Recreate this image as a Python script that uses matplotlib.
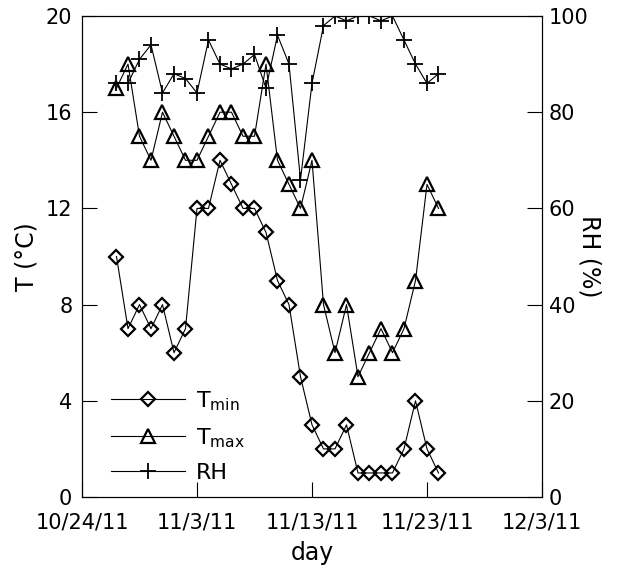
import matplotlib
matplotlib.use('Agg')
import matplotlib.pyplot as plt
import matplotlib.dates as mdates
import datetime as dt

# daily data, 10/27/11 .. 11/24/11
dates = ['2011-10-27', '2011-10-28', '2011-10-29', '2011-10-30', '2011-10-31',
         '2011-11-01', '2011-11-02', '2011-11-03', '2011-11-04', '2011-11-05',
         '2011-11-06', '2011-11-07', '2011-11-08', '2011-11-09', '2011-11-10',
         '2011-11-11', '2011-11-12', '2011-11-13', '2011-11-14', '2011-11-15',
         '2011-11-16', '2011-11-17', '2011-11-18', '2011-11-19', '2011-11-20',
         '2011-11-21', '2011-11-22', '2011-11-23', '2011-11-24']
tmin = [10, 7, 8, 7, 8, 6, 7, 12, 12, 14, 13, 12, 12, 11, 9, 8, 5, 3, 2, 2,
        3, 1, 1, 1, 1, 2, 4, 2, 1]
tmax = [17, 18, 15, 14, 16, 15, 14, 14, 15, 16, 16, 15, 15, 18, 14, 13, 12, 14,
        8, 6, 8, 5, 6, 7, 6, 7, 9, 13, 12]
rh = [86, 86, 91, 94, 84, 88, 87, 84, 95, 90, 89, 90, 92, 85, 96, 90, 66, 86,
      98, 100, 99, 100, 100, 99, 100, 95, 90, 86, 88]

tick_dates = ['2011-10-24', '2011-11-03', '2011-11-13', '2011-11-23', '2011-12-03']
t_ticks = [0, 4, 8, 12, 16, 20]
rh_ticks = [0, 20, 40, 60, 80, 100]

x = [dt.datetime.strptime(d, '%Y-%m-%d') for d in dates]
xt = [dt.datetime.strptime(d, '%Y-%m-%d') for d in tick_dates]

fig = plt.figure(figsize=(6.24, 5.73), dpi=100)
ax = fig.add_axes([82/624, 1-497/573, 460/624, 481/573])
ax2 = ax.twinx()

l1, = ax.plot(x, tmin, '-', color='k', lw=0.8, marker='D', ms=7.2,
              mfc='none', mec='k', mew=1.6)
l2, = ax.plot(x, tmax, '-', color='k', lw=0.8, marker='^', ms=10.5,
              mfc='none', mec='k', mew=1.6)
l3, = ax2.plot(x, rh, '-', color='k', lw=0.8, marker='+', ms=11,
               mec='k', mew=1.3)

ax.set_xlim(xt[0], xt[-1])
ax.set_ylim(0, 20)
ax2.set_ylim(0, 100)
ax.set_xticks(xt)
ax.xaxis.set_major_formatter(plt.FuncFormatter(
    lambda v, p: '{0.month}/{0.day}/{0:%y}'.format(mdates.num2date(v))))
ax.set_yticks(t_ticks)
ax2.set_yticks(rh_ticks)

ax.tick_params(axis='x', direction='in', length=11, width=0.8, labelsize=15, pad=11, top=False)
ax.tick_params(axis='y', direction='in', length=11, width=0.8, labelsize=15, pad=7, right=False)
ax2.tick_params(axis='y', direction='in', length=11, width=0.8, labelsize=15, pad=5)
for a in (ax, ax2):
    for s in a.spines.values():
        s.set_linewidth(0.8)

ax.set_xlabel('day', fontsize=17, labelpad=6)
ax.set_ylabel('T (°C)', fontsize=17, labelpad=5)
ax2.set_ylabel('RH (%)', fontsize=17, rotation=270, labelpad=9)

ax2.legend([l1, l2, l3], [r'$\mathregular{T_{min}}$', r'$\mathregular{T_{max}}$', 'RH'],
           loc='lower left', bbox_to_anchor=(0.03, -0.003), frameon=False,
           fontsize=16, handlelength=3.3, numpoints=1, labelspacing=0.6,
           handletextpad=0.5, borderpad=0.2)

fig.savefig('out.png', dpi=100)
